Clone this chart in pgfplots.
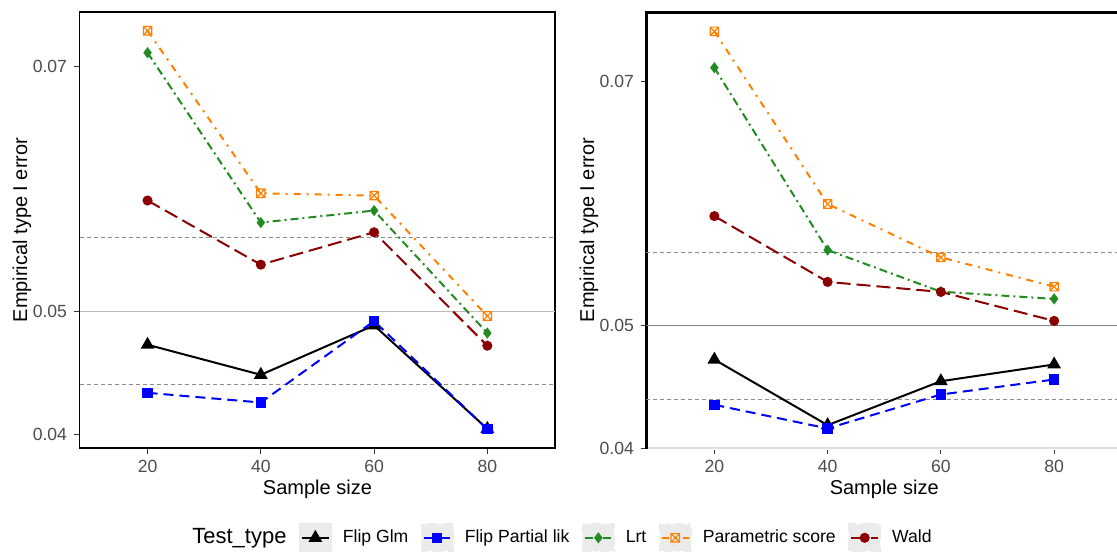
\documentclass[border=0pt]{standalone}
\usepackage{fontspec}
\setmainfont{Liberation Sans}
\usepackage{pgfplots}
\pgfplotsset{compat=1.18}

\definecolor{ticktext}{HTML}{4D4D4D}
\definecolor{tickline}{HTML}{333333}
\definecolor{keybg}{HTML}{EBEBEB}
\definecolor{fgreen}{HTML}{228B22}
\definecolor{dorange}{HTML}{FF7F00}
\definecolor{dred}{HTML}{8B0000}

% square with a cross in it (ggplot shape 7)
\pgfdeclareplotmark{boxtimes}{%
  \pgfpathrectangle{\pgfqpoint{-\pgfplotmarksize}{-\pgfplotmarksize}}{\pgfqpoint{2\pgfplotmarksize}{2\pgfplotmarksize}}%
  \pgfpathmoveto{\pgfqpoint{-\pgfplotmarksize}{-\pgfplotmarksize}}%
  \pgfpathlineto{\pgfqpoint{\pgfplotmarksize}{\pgfplotmarksize}}%
  \pgfpathmoveto{\pgfqpoint{-\pgfplotmarksize}{\pgfplotmarksize}}%
  \pgfpathlineto{\pgfqpoint{\pgfplotmarksize}{-\pgfplotmarksize}}%
  \pgfusepathqstroke}

\pgfplotsset{
  panel/.style={
    scale only axis, width=237.85pt, height=218pt,
    xmin=8, xmax=92,
    xtick={20,40,60,80}, xticklabels={20,40,60,80},
    ytick={0.04,0.05,0.07}, yticklabels={0.04,0.05,0.07},
    tick align=outside, tick pos=left,
    major tick length=2.75pt,
    every tick/.style={tickline, line width=0.5pt},
    tick label style={font=\fontsize{8.8}{10}\selectfont, text=ticktext},
    xlabel={Sample size}, ylabel={Empirical type I error},
    label style={font=\fontsize{11}{13}\selectfont},
    every axis x label/.style={at={(axis description cs:0.5,-0.094)}, anchor=center},
    every axis y label/.style={at={(axis description cs:-0.121,0.5)}, anchor=center, rotate=90},
    axis line style={black, line width=0.9pt},
  },
  glm/.style={black, line width=1pt, mark=triangle*, mark size=3pt, mark options={solid}},
  plik/.style={blue, line width=1pt, dash pattern=on 5pt off 3pt, mark=square*, mark size=2.1pt, mark options={solid}},
  lrt/.style={fgreen, line width=1pt, dash pattern=on 4pt off 2pt on 1pt off 2pt, mark=diamond*, mark size=2pt, mark options={solid}},
  psc/.style={dorange, line width=1pt, dash pattern=on 3.5pt off 3pt on 1pt off 3pt, mark=boxtimes, mark size=2.1pt, mark options={solid, line width=0.6pt}},
  wald/.style={dred, line width=1pt, dash pattern=on 7pt off 3pt, mark=*, mark size=2pt, mark options={solid}},
  refline/.style={forget plot, line width=0.5pt},
}

\begin{document}
\begin{tikzpicture}
\useasboundingbox (0,0) rectangle (558.5pt,277pt);

% left panel
\begin{axis}[panel, at={(39.8pt,53pt)}, anchor=south west,
  ymin=0.03886, ymax=0.07441,
  legend style={at={(axis description cs:0.213,-0.206)}, anchor=west, draw=none, fill=none,
    inner sep=0pt, legend columns=-1, nodes={inner sep=0pt},
    font=\fontsize{8.8}{10}\selectfont,
    /tikz/every odd column/.append style={column sep=5.5pt},
    /tikz/every even column/.append style={column sep=6.2pt}},
  legend image code/.code={
    \fill[keybg] (0pt,-6.75pt) rectangle (15.5pt,6.75pt);
    \draw[mark repeat=2,mark phase=2,#1] plot coordinates {(1pt,0pt) (7.75pt,0pt) (14.5pt,0pt)};
  },
]
\addlegendimage{empty legend}
\addlegendentry{\fontsize{11}{13}\selectfont Test\_type}
\addplot[refline, black!27] coordinates {(8,0.05) (92,0.05)};
\addplot[refline, black!45, dash pattern=on 2pt off 1.5pt] coordinates {(8,0.044) (92,0.044)};
\addplot[refline, black!45, dash pattern=on 2pt off 1.5pt] coordinates {(8,0.056) (92,0.056)};
\addplot[glm] coordinates {(20,0.04728) (40,0.04483) (60,0.04886) (80,0.04042)};
\addlegendentry{Flip Glm}
\addplot[plik] coordinates {(20,0.04336) (40,0.04257) (60,0.04921) (80,0.04039)};
\addlegendentry{Flip Partial lik}
\addplot[lrt] coordinates {(20,0.07109) (40,0.05724) (60,0.05822) (80,0.04823)};
\addlegendentry{Lrt}
\addplot[psc] coordinates {(20,0.07288) (40,0.05963) (60,0.05944) (80,0.04962)};
\addlegendentry{Parametric score}
\addplot[wald] coordinates {(20,0.05904) (40,0.05381) (60,0.05645) (80,0.04720)};
\addlegendentry{Wald}
\end{axis}

% right panel (its right edge lies outside the picture)
\begin{axis}[panel, name=rp, at={(323.2pt,53pt)}, anchor=south west,
  ymin=0.04, ymax=0.0757,
  axis line style={black, line width=1.2pt},
]
\addplot[refline, black!50] coordinates {(8,0.05) (92,0.05)};
\addplot[refline, black!45, dash pattern=on 2pt off 1.5pt] coordinates {(8,0.044) (92,0.044)};
\addplot[refline, black!45, dash pattern=on 2pt off 1.5pt] coordinates {(8,0.056) (92,0.056)};
\addplot[glm] coordinates {(20,0.04724) (40,0.04187) (60,0.04547) (80,0.04684)};
\addplot[plik] coordinates {(20,0.04354) (40,0.04160) (60,0.04438) (80,0.04561)};
\addplot[lrt] coordinates {(20,0.07114) (40,0.05621) (60,0.05280) (80,0.05221)};
\addplot[psc] coordinates {(20,0.07412) (40,0.05998) (60,0.05561) (80,0.05321)};
\addplot[wald] coordinates {(20,0.05899) (40,0.05360) (60,0.05278) (80,0.05041)};
\end{axis}
% top edge drawn again, bottom edge light as in the reference
\draw[black, line width=1.3pt] ([yshift=-0.2pt]rp.north west) -- ([yshift=-0.2pt]rp.north east);
\draw[white, line width=1.6pt] ([xshift=0.6pt]rp.south west) -- (rp.south east);
\draw[black!12, line width=0.8pt] ([xshift=0.6pt]rp.south west) -- (rp.south east);
\end{tikzpicture}
\end{document}
